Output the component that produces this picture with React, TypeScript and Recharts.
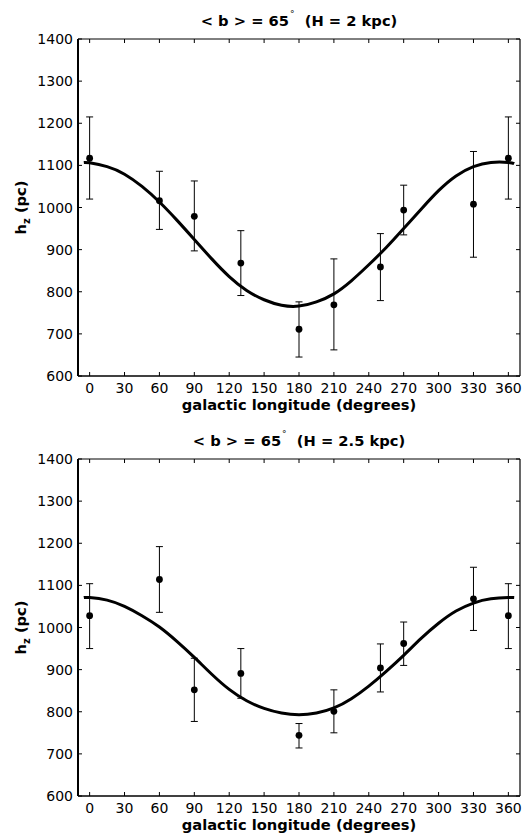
import React from 'react';
import { ComposedChart, Line, Scatter, ErrorBar, XAxis, YAxis } from 'recharts';

// Observed points (galactic longitude, degrees)
const longitudes = [0, 60, 90, 130, 180, 210, 250, 270, 330, 360];

// Panel 1: H = 2 kpc
const hz2 = [1117, 1016, 979, 868, 711, 769, 859, 994, 1008, 1117];
const lo2 = [1020, 948, 897, 791, 645, 662, 779, 935, 882, 1020];
const hi2 = [1215, 1086, 1063, 945, 776, 878, 938, 1053, 1133, 1215];

// Panel 2: H = 2.5 kpc
const hz25 = [1028, 1114, 852, 891, 744, 801, 904, 962, 1068, 1028];
const lo25 = [950, 1036, 777, 832, 714, 750, 847, 910, 993, 950];
const hi25 = [1104, 1192, 927, 950, 772, 852, 961, 1013, 1143, 1104];

// Model curves
const curveL = [-5, 0, 15, 30, 45, 60, 75, 90, 105, 120, 135, 150, 165, 180, 195, 210, 225, 240, 255, 270, 285, 300, 315, 330, 345, 360, 365];
const curve2 = [1107, 1106, 1097, 1079, 1050, 1013, 970, 924, 878, 836, 803, 781, 768, 766, 776, 795, 826, 864, 905, 950, 996, 1040, 1075, 1097, 1107, 1107, 1104];
const curve25 = [1071, 1071, 1065, 1050, 1028, 1001, 967, 929, 889, 853, 826, 808, 797, 793, 797, 809, 831, 861, 896, 934, 974, 1010, 1039, 1058, 1068, 1071, 1071];

const xTicks = [0, 30, 60, 90, 120, 150, 180, 210, 240, 270, 300, 330, 360];
const yTicks = [600, 700, 800, 900, 1000, 1100, 1200, 1300, 1400];

const titles = ['2', '2.5'];

const FONT = '"DejaVu Sans", sans-serif';

const BottomTick = (p: any) => (
  <g>
    <line x1={p.x} y1={p.y} x2={p.x} y2={p.y - 4} stroke="#000" strokeWidth={1} />
    <text x={p.x} y={p.y + 17} textAnchor="middle" style={{ fontFamily: FONT, fontSize: 14 }} fill="#000">
      {p.payload.value}
    </text>
  </g>
);
const TopTick = (p: any) => (
  <line x1={p.x} y1={p.y} x2={p.x} y2={p.y + 4} stroke="#000" strokeWidth={1} />
);
const LeftTick = (p: any) => (
  <g>
    <line x1={p.x} y1={p.y} x2={p.x + 4} y2={p.y} stroke="#000" strokeWidth={1} />
    <text x={p.x - 5} y={p.y + 5} textAnchor="end" style={{ fontFamily: FONT, fontSize: 14 }} fill="#000">
      {p.payload.value}
    </text>
  </g>
);
const RightTick = (p: any) => (
  <line x1={p.x} y1={p.y} x2={p.x - 4} y2={p.y} stroke="#000" strokeWidth={1} />
);

function Panel({ hz, lo, hi, curve, H }: { hz: number[]; lo: number[]; hi: number[]; curve: number[]; H: string }) {
  const points = longitudes.map((l, i) => ({ l, v: hz[i], err: [hz[i] - lo[i], hi[i] - hz[i]] }));
  const line = curveL.map((l, i) => ({ l, v: curve[i] }));

  const titleLabel = (props: any) => {
    const vb = props.viewBox;
    return (
      <text
        x={vb.x + vb.width / 2}
        y={vb.y + vb.height - 13}
        textAnchor="middle"
        style={{ fontFamily: FONT, fontSize: 14.7, fontWeight: 'bold', whiteSpace: 'pre' }}
        fill="#000"
      >
        <tspan>{'< b > = 65'}</tspan>
        <tspan dx={1} dy={-9} fontSize={9} fontWeight="normal">°</tspan>
        <tspan dy={9}>{'  (H = ' + H + ' kpc)'}</tspan>
      </text>
    );
  };

  const xLabel = (props: any) => {
    const vb = props.viewBox;
    return (
      <text
        x={vb.x + vb.width / 2}
        y={vb.y + 34}
        textAnchor="middle"
        style={{ fontFamily: FONT, fontSize: 14.7, fontWeight: 'bold' }}
        fill="#000"
      >
        galactic longitude (degrees)
      </text>
    );
  };

  const yLabel = (props: any) => {
    const vb = props.viewBox;
    const cx = vb.x + 26;
    const cy = vb.y + vb.height / 2;
    return (
      <text
        x={cx}
        y={cy}
        transform={`rotate(-90, ${cx}, ${cy})`}
        textAnchor="middle"
        style={{ fontFamily: FONT, fontSize: 14.7, fontWeight: 'bold', whiteSpace: 'pre' }}
        fill="#000"
      >
        <tspan>h</tspan>
        <tspan dy={4} fontSize={10}>z</tspan>
        <tspan dy={-4}>{' (pc)'}</tspan>
      </text>
    );
  };

  return (
    <ComposedChart width={524} height={417} margin={{ top: 38, right: 3, left: 0, bottom: 0 }}>
      <XAxis
        xAxisId={0}
        dataKey="l"
        type="number"
        domain={[-10, 370]}
        ticks={xTicks}
        allowDataOverflow
        height={41}
        tickSize={0}
        tickMargin={0}
        tick={BottomTick}
        tickLine={false}
        axisLine={{ stroke: '#000', strokeWidth: 1.6 }}
        label={xLabel}
      />
      <XAxis
        xAxisId="top"
        orientation="top"
        dataKey="l"
        type="number"
        domain={[-10, 370]}
        ticks={xTicks}
        allowDataOverflow
        height={1}
        tickSize={0}
        tickMargin={0}
        tick={TopTick}
        tickLine={false}
        axisLine={{ stroke: '#000', strokeWidth: 1 }}
        label={titleLabel}
      />
      <YAxis
        yAxisId={0}
        dataKey="v"
        type="number"
        domain={[600, 1400]}
        ticks={yTicks}
        allowDataOverflow
        width={78}
        tickSize={0}
        tickMargin={0}
        tick={LeftTick}
        tickLine={false}
        axisLine={{ stroke: '#000', strokeWidth: 2 }}
        label={yLabel}
      />
      <YAxis
        yAxisId="right"
        orientation="right"
        dataKey="v"
        type="number"
        domain={[600, 1400]}
        ticks={yTicks}
        allowDataOverflow
        width={1}
        tickSize={0}
        tickMargin={0}
        tick={RightTick}
        tickLine={false}
        axisLine={{ stroke: '#000', strokeWidth: 1.2 }}
      />
      <Line
        data={line}
        dataKey="v"
        type="natural"
        stroke="#000"
        strokeWidth={3}
        dot={false}
        activeDot={false}
        isAnimationActive={false}
      />
      <Scatter
        data={points}
        dataKey="v"
        isAnimationActive={false}
        shape={(p: any) => <circle cx={p.cx} cy={p.cy} r={3.4} fill="#000" />}
      >
        <ErrorBar dataKey="err" direction="y" width={3.5} stroke="#000" strokeWidth={1} isAnimationActive={false} />
      </Scatter>
      <Scatter
        data={points}
        dataKey="v"
        xAxisId="top"
        yAxisId="right"
        isAnimationActive={false}
        shape={() => <g />}
      />
    </ComposedChart>
  );
}

export default function App() {
  return (
    <div style={{ position: 'absolute', left: 0, top: 0, width: 524, height: 834, background: '#fff' }}>
      <div style={{ position: 'absolute', left: 0, top: 0 }}>
        <Panel hz={hz2} lo={lo2} hi={hi2} curve={curve2} H={titles[0]} />
      </div>
      <div style={{ position: 'absolute', left: 0, top: 420 }}>
        <Panel hz={hz25} lo={lo25} hi={hi25} curve={curve25} H={titles[1]} />
      </div>
    </div>
  );
}
